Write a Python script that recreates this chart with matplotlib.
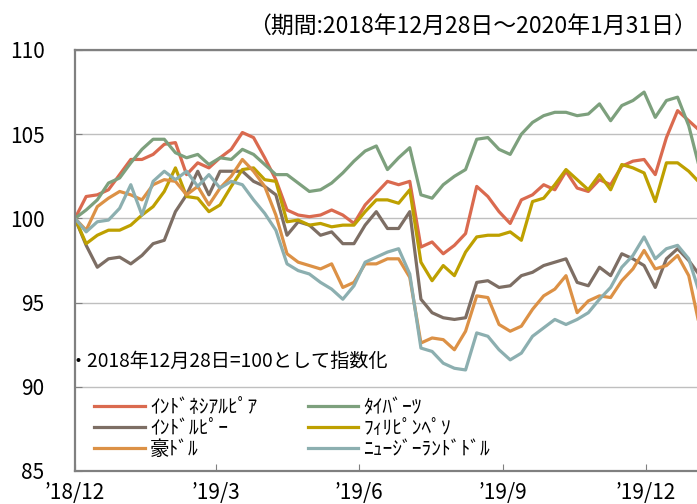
import matplotlib
matplotlib.use("Agg")
import matplotlib.pyplot as plt

plt.rcParams['font.family'] = ['Noto Sans CJK JP', 'DejaVu Sans']

# trading-day index (every 5th business day from 2018-12-28)
day_index = list(range(0, 281, 5))

idr = [100.0, 101.3, 101.4, 101.7, 102.6, 103.5, 103.5, 103.8, 104.4, 104.5,
       102.6, 103.3, 103.0, 103.6, 104.1, 105.1, 104.8, 103.6, 102.3, 100.5,
       100.2, 100.1, 100.2, 100.5, 100.2, 99.7, 100.8, 101.5, 102.2, 102.0,
       102.2, 98.3, 98.6, 97.9, 98.4, 99.1, 101.9, 101.3, 100.4, 99.7,
       101.1, 101.4, 102.0, 101.7, 102.8, 101.8, 101.6, 102.3, 102.0, 103.1,
       103.4, 103.5, 102.6, 104.8, 106.4, 105.8, 105.2]
thb = [100.0, 100.5, 101.1, 102.1, 102.4, 103.3, 104.1, 104.7, 104.7, 103.9,
       103.6, 103.8, 103.2, 103.6, 103.5, 104.1, 103.8, 103.2, 102.6, 102.6,
       102.1, 101.6, 101.7, 102.1, 102.7, 103.4, 104.0, 104.3, 102.9, 103.6,
       104.2, 101.4, 101.2, 102.0, 102.5, 102.9, 104.7, 104.8, 104.1, 103.8,
       105.0, 105.7, 106.1, 106.3, 106.3, 106.1, 106.2, 106.8, 105.8, 106.7,
       107.0, 107.5, 106.0, 107.0, 107.2, 105.5, 102.9]
inr = [100.0, 98.4, 97.1, 97.6, 97.7, 97.3, 97.8, 98.5, 98.7, 100.4,
       101.4, 102.8, 101.4, 102.8, 102.8, 102.8, 102.2, 101.9, 101.4, 99.0,
       99.8, 99.6, 99.0, 99.2, 98.5, 98.5, 99.6, 100.4, 99.4, 99.4,
       100.4, 95.2, 94.4, 94.1, 94.0, 94.1, 96.2, 96.3, 95.9, 96.0,
       96.6, 96.8, 97.2, 97.4, 97.6, 96.2, 96.0, 97.1, 96.6, 97.9,
       97.6, 97.2, 95.9, 97.6, 98.2, 97.5, 96.6]
php = [100.0, 98.5, 99.0, 99.3, 99.3, 99.6, 100.2, 100.7, 101.6, 103.0,
       101.3, 101.2, 100.4, 100.8, 101.9, 102.9, 103.0, 102.3, 102.2, 99.8,
       99.9, 99.6, 99.7, 99.5, 99.6, 99.6, 100.4, 101.1, 101.1, 100.9,
       101.7, 97.4, 96.3, 97.2, 96.6, 98.0, 98.9, 99.0, 99.0, 99.2,
       98.7, 101.0, 101.2, 102.0, 102.9, 102.3, 101.7, 102.6, 101.7, 103.2,
       103.0, 102.7, 101.0, 103.3, 103.3, 102.8, 102.1]
aud = [100.0, 99.3, 100.7, 101.2, 101.6, 101.4, 101.1, 102.0, 102.3, 102.2,
       101.4, 101.9, 100.8, 101.8, 102.5, 103.5, 102.8, 101.9, 100.2, 97.9,
       97.4, 97.2, 97.0, 97.3, 95.9, 96.2, 97.3, 97.3, 97.6, 97.6,
       96.5, 92.6, 92.9, 92.8, 92.2, 93.3, 95.4, 95.3, 93.7, 93.3,
       93.6, 94.6, 95.4, 95.8, 96.6, 94.4, 95.1, 95.4, 95.3, 96.3,
       97.0, 98.1, 97.0, 97.2, 97.8, 96.6, 93.5]
nzd = [100.0, 99.2, 99.8, 99.9, 100.6, 102.0, 100.2, 102.2, 102.8, 102.3,
       102.8, 101.9, 102.6, 101.8, 102.2, 102.0, 101.1, 100.3, 99.3, 97.3,
       96.9, 96.7, 96.2, 95.8, 95.2, 96.0, 97.4, 97.7, 98.0, 98.2,
       96.7, 92.3, 92.1, 91.4, 91.1, 91.0, 93.2, 93.0, 92.2, 91.6,
       92.0, 93.0, 93.5, 94.0, 93.7, 94.0, 94.4, 95.2, 95.9, 97.1,
       97.8, 98.9, 97.6, 98.2, 98.4, 97.6, 95.5]

series_names = ['ｲﾝﾄﾞﾈｼｱﾙﾋﾟｱ', 'ﾀｲﾊﾞｰﾂ', 'ｲﾝﾄﾞﾙﾋﾟｰ', 'ﾌｨﾘﾋﾟﾝﾍﾟｿ', '豪ﾄﾞﾙ', 'ﾆｭｰｼﾞｰﾗﾝﾄﾞﾄﾞﾙ']
series_vals = [idr, thb, inr, php, aud, nzd]
colors = ['#DA6A4F', '#7DA07D', '#7D6E64', '#BEA000', '#DC9146', '#8CAFB0']

tick_pos = [0, 63.3, 127.3, 191.8, 255.8]
tick_labels = ['’18/12', '’19/3', '’19/6', '’19/9', '’19/12']
y_ticks = [85, 90, 95, 100, 105, 110]

fig = plt.figure(figsize=(6.97, 5.04), dpi=100)
ax = fig.add_axes([75/697, 33/504, 622/697, 421/504])

handles = {}
for name, vals, c in zip(series_names, series_vals, colors):
    ln, = ax.plot(day_index, vals, color=c, lw=2.3, solid_joinstyle='round')
    handles[name] = ln

ax.set_xlim(0, 278.7)
ax.set_ylim(85, 110)
ax.set_yticks(y_ticks)
ax.set_yticklabels([str(v) for v in y_ticks])
ax.set_xticks(tick_pos)
ax.set_xticklabels(tick_labels)
ax.grid(axis='y', color='#BFBFBF', lw=1)
ax.set_axisbelow(True)

for s in ['left', 'bottom', 'top']:
    ax.spines[s].set_color('#808080')
    ax.spines[s].set_linewidth(1.6)
ax.spines['right'].set_visible(False)
ax.tick_params(axis='y', direction='in', length=5, color='#808080', pad=22, labelsize=15)
ax.tick_params(axis='x', direction='in', length=5, color='#808080', pad=8, labelsize=15)

order = [0, 2, 4, 1, 3, 5]
leg = ax.legend([handles[series_names[k]] for k in order],
                [series_names[k] for k in order],
                ncol=2, frameon=False, fontsize=14,
                loc='upper left', bbox_to_anchor=(0.0, 0.222),
                handlelength=2.6, handletextpad=0.25, columnspacing=2.6,
                labelspacing=0.0, borderaxespad=0.6)

fig.text(68/697, (504-361)/504, '・2018年12月28日=100として指数化',
         ha='left', va='center', fontsize=13.8)
fig.text(1.0, (504-26)/504, '（期間:2018年12月28日～2020年1月31日）',
         ha='right', va='center', fontsize=16.5)

fig.savefig('out.png', dpi=100)
